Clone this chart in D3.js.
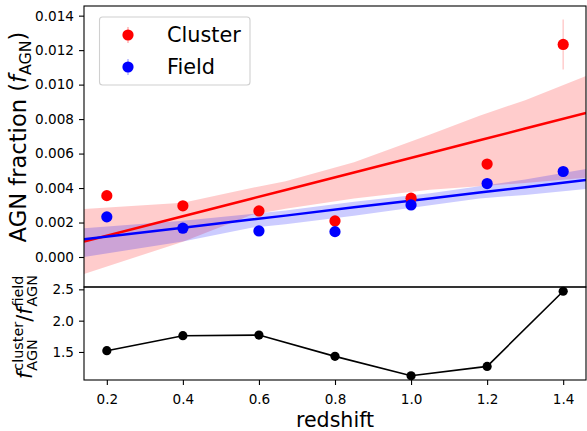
<!DOCTYPE html>
<html>
<head>
<meta charset="utf-8">
<script src="https://cdn.jsdelivr.net/npm/d3@7"></script>
<style>
  body { margin: 0; background: #fff; }
  svg { display: block; font-family: "DejaVu Sans", sans-serif; }
</style>
</head>
<body>
<div class="fig"></div>
<script>
// measured points
var redshift = [0.2, 0.4, 0.6, 0.8, 1.0, 1.2, 1.4];
var clusterFrac = [0.00356, 0.00297, 0.00267, 0.00209, 0.00341, 0.00539, 0.01233];
var clusterErr = [0.0002, 0.0002, 0.0002, 0.0002, 0.0002, 0.0002, 0.00145];
var fieldFrac = [0.00233, 0.00167, 0.00151, 0.00147, 0.00302, 0.00426, 0.00496];
var fieldErr = [0.0001, 0.0001, 0.0001, 0.0001, 0.0001, 0.0001, 0.0001];
var ratio = [1.52, 1.76, 1.77, 1.43, 1.12, 1.27, 2.47];

// linear fits + confidence bands, read on a grid of redshifts
var fitZ = [0.14, 0.4, 0.58, 0.67, 0.85, 1.05, 1.18, 1.3, 1.46];
var clusterFit = [0.00089, 0.00236, 0.00338, 0.00389, 0.0049, 0.00603, 0.00677, 0.00745, 0.00835];
var clusterHi = [0.00279, 0.00314, 0.0040, 0.0044, 0.0055, 0.0071, 0.0082, 0.0091, 0.0105];
var clusterLo = [-0.00099, 0.00089, 0.00244, 0.0028, 0.0034, 0.0039, 0.0041, 0.0043, 0.0046];
var fieldFit = [0.00103, 0.0017, 0.00217, 0.0024, 0.00288, 0.0034, 0.00374, 0.00405, 0.00447];
var fieldHi = [0.00167, 0.0021, 0.0025, 0.0027, 0.0032, 0.0037, 0.0041, 0.0045, 0.0051];
var fieldLo = [0.0000, 0.0009, 0.0017, 0.0019, 0.0024, 0.0030, 0.0034, 0.0036, 0.00395];

var xTicks = [0.2, 0.4, 0.6, 0.8, 1.0, 1.2, 1.4];
var yTicks = [0, 0.002, 0.004, 0.006, 0.008, 0.010, 0.012, 0.014];
var rTicks = [1.5, 2.0, 2.5];

var W = 587, H = 431;
var L = 84, R = 586, T = 6, MID = 287, B = 380;

var svg = d3.select(".fig").append("svg")
    .attr("width", W)
    .attr("height", H);

var x = d3.scaleLinear().domain([0.14, 1.46]).range([L, R]);
var y = d3.scaleLinear().domain([-0.00174, 0.01456]).range([MID, T]);
var rPad = (d3.max(ratio) - d3.min(ratio)) * 0.05;
var yr = d3.scaleLinear().domain([d3.min(ratio) - rPad, d3.max(ratio) + rPad]).range([B, MID]);

svg.append("clipPath").attr("id", "clipTop")
    .append("rect").attr("x", L).attr("y", T).attr("width", R - L).attr("height", MID - T);

var panel = svg.append("g").attr("clip-path", "url(#clipTop)");

var band = function(lo, hi) {
    return d3.area()
        .x(function(d, i) { return x(fitZ[i]); })
        .y0(function(d, i) { return y(lo[i]); })
        .y1(function(d, i) { return y(hi[i]); })(fitZ);
};
var fitLine = function(vals) {
    return d3.line()
        .x(function(d, i) { return x(fitZ[i]); })
        .y(function(d, i) { return y(vals[i]); })(fitZ);
};

panel.append("path").attr("d", band(clusterLo, clusterHi)).attr("fill", "red").attr("fill-opacity", 0.2);
panel.append("path").attr("d", band(fieldLo, fieldHi)).attr("fill", "blue").attr("fill-opacity", 0.2);
panel.append("path").attr("d", fitLine(clusterFit)).attr("fill", "none").attr("stroke", "red").attr("stroke-width", 2.5);
panel.append("path").attr("d", fitLine(fieldFit)).attr("fill", "none").attr("stroke", "blue").attr("stroke-width", 2.5);

var drawPoints = function(vals, errs, color) {
    panel.selectAll(null).data(vals).enter().append("line")
        .attr("x1", function(d, i) { return x(redshift[i]); })
        .attr("x2", function(d, i) { return x(redshift[i]); })
        .attr("y1", function(d, i) { return y(d - errs[i]); })
        .attr("y2", function(d, i) { return y(d + errs[i]); })
        .attr("stroke", color).attr("stroke-opacity", 0.2).attr("stroke-width", 1.5);
    panel.selectAll(null).data(vals).enter().append("circle")
        .attr("cx", function(d, i) { return x(redshift[i]); })
        .attr("cy", function(d) { return y(d); })
        .attr("r", 5.6)
        .attr("fill", color);
};
drawPoints(clusterFrac, clusterErr, "red");
drawPoints(fieldFrac, fieldErr, "blue");

// ratio panel
var line = d3.line()
    .x(function(d, i) { return x(redshift[i]); })
    .y(function(d) { return yr(d); });
svg.append("path").attr("d", line(ratio)).attr("fill", "none").attr("stroke", "black").attr("stroke-width", 1.6);
svg.selectAll(".rdot").data(ratio).enter().append("circle")
    .attr("class", "rdot")
    .attr("cx", function(d, i) { return x(redshift[i]); })
    .attr("cy", function(d) { return yr(d); })
    .attr("r", 4.6)
    .attr("fill", "black");

// axes
var yAxis = svg.append("g").attr("transform", "translate(" + L + ",0)")
    .call(d3.axisLeft(y).tickValues(yTicks).tickFormat(d3.format(".3f")).tickSize(5).tickPadding(5));
var rAxis = svg.append("g").attr("transform", "translate(" + L + ",0)")
    .call(d3.axisLeft(yr).tickValues(rTicks).tickFormat(d3.format(".1f")).tickSize(5).tickPadding(5));
var xAxis = svg.append("g").attr("transform", "translate(0," + B + ")")
    .call(d3.axisBottom(x).tickValues(xTicks).tickFormat(d3.format(".1f")).tickSize(5).tickPadding(5));

[yAxis, rAxis, xAxis].forEach(function(a) {
    a.select(".domain").remove();
    a.selectAll("text").attr("font-size", 13.6).attr("font-family", "DejaVu Sans").attr("fill", "black");
    a.selectAll("line").attr("stroke", "black").attr("stroke-width", 1.1);
});
xAxis.selectAll("text").attr("y", 0).attr("dy", 24);

// frames
svg.append("rect").attr("x", L).attr("y", T).attr("width", R - L).attr("height", MID - T)
    .attr("fill", "none").attr("stroke", "black").attr("stroke-width", 1.1);
svg.append("rect").attr("x", L).attr("y", MID).attr("width", R - L).attr("height", B - MID)
    .attr("fill", "none").attr("stroke", "black").attr("stroke-width", 1.1);

// legend
var leg = svg.append("g");
leg.append("rect").attr("x", 99.5).attr("y", 17).attr("width", 150.5).attr("height", 68).attr("rx", 3)
    .attr("fill", "white").attr("fill-opacity", 0.8).attr("stroke", "#d0d0d0").attr("stroke-width", 1.1);
var legItems = [["Cluster", "red", 35, 42], ["Field", "blue", 67, 73.5]];
legItems.forEach(function(it) {
    leg.append("line").attr("x1", 128).attr("x2", 128).attr("y1", it[2] - 8).attr("y2", it[2] + 8)
        .attr("stroke", it[1]).attr("stroke-opacity", 0.3).attr("stroke-width", 1.5);
    leg.append("circle").attr("cx", 128).attr("cy", it[2]).attr("r", 5.6).attr("fill", it[1]);
    leg.append("text").attr("x", 167).attr("y", it[3]).attr("font-size", 20.8).text(it[0]);
});

// axis labels
svg.append("text").attr("x", 335).attr("y", 427).attr("text-anchor", "middle")
    .attr("font-size", 20.6).text("redshift");

var yl = svg.append("text").attr("transform", "translate(26,137) rotate(-90)")
    .attr("text-anchor", "middle").attr("font-size", 22.6);
yl.append("tspan").text("AGN fraction (");
yl.append("tspan").attr("font-style", "italic").text("f");
yl.append("tspan").attr("font-size", 15.8).attr("dy", 4.5).text("AGN");
yl.append("tspan").attr("dy", -4.5).text(")");

// ratio label: f^cluster_AGN / f^field_AGN, stacked scripts
var rl = svg.append("g").attr("transform", "translate(32,327) rotate(-90)");
var cx = 0;
var piece = function(txt, size, dy, italic) {
    var t = rl.append("text").attr("x", cx).attr("y", dy).attr("font-size", size).text(txt);
    if (italic) t.attr("font-style", "italic");
    return t.node().getComputedTextLength();
};
var scripted = function(sup) {
    cx += piece("f", 20.6, 0, true) + 1;
    var w1 = piece(sup, 14.4, -9, false);
    var w2 = piece("AGN", 14.4, 5, false);
    cx += Math.max(w1, w2);
};
scripted("cluster");
cx += piece("/", 20.6, 0, false);
scripted("field");
rl.selectAll("text").attr("x", function() { return +d3.select(this).attr("x") - cx / 2; });
</script>
</body>
</html>
